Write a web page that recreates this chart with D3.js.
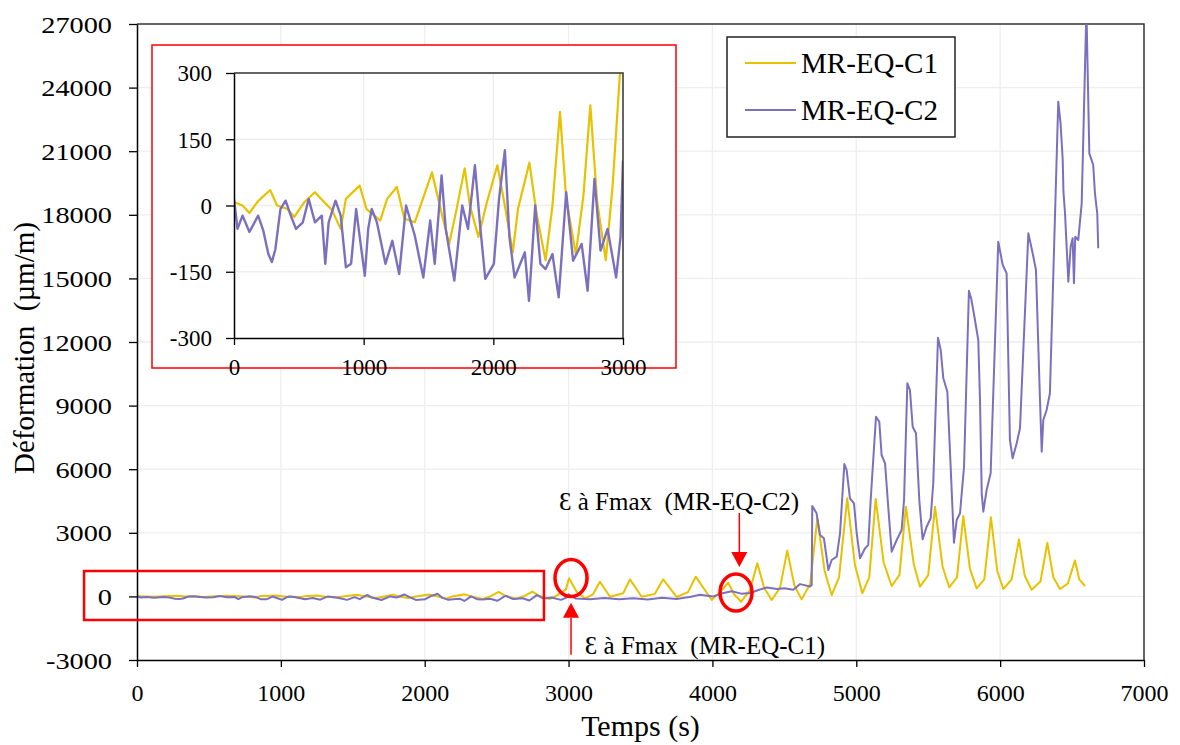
<!DOCTYPE html>
<html>
<head>
<meta charset="utf-8">
<script src="https://cdn.jsdelivr.net/npm/d3@7"></script>
<style>
  html, body { margin: 0; padding: 0; background: #fff; }
  svg { display: block; }
  text { font-family: "Liberation Serif", "Times New Roman", serif; fill: #000; }
</style>
</head>
<body>
<svg id="chart" width="1180" height="745"></svg>
<script>
// ---------------- DATA ----------------
const seriesNames = ["MR-EQ-C1", "MR-EQ-C2"];
const seriesColors = ["#E8C100", "#7B70BE"];

const timeC1 = [0,66,119,186,279,332,412,465,544,624,704,757,823,863,969,1022,1128,1181,1256,1314,1394,1527,1606,1659,1712,1779,1819,1885,1951,2031,2084,2150,2190,2278,2336,2403,2456,2514,2562,2636,2695,2748,2801,2867,2920,2981,
  3003,3056,3114,3170,3218,3288,3380,3427,3508,3600,3658,3752,3830,3884,3995,4060,4110,4150,4200,4261,4312,4360,4412,4470,4520,4570,4620,4680,4729,4780,4829,4880,4937,4990,5042,5090,5135,5190,5246,5300,5345,5400,5443,5500,5547,5600,5646,5700,5744,5790,5837,5890,5936,5980,6022,6080,6131,6170,6219,6280,6328,6370,6416,6470,6520,6550,6590];
const strainC1 = [8,0,-17,10,35,0,-8,-26,8,30,5,-11,-53,15,45,-8,-34,15,42,-30,-38,75,-23,-87,-15,84,0,-71,8,91,8,-106,-8,97,-23,-124,0,212,15,-110,23,227,8,-124,45,320,
  854,222,-90,100,694,-14,150,805,-14,120,805,-30,200,930,-170,250,650,100,-250,300,1560,400,-170,400,2160,500,-140,600,3680,1200,65,900,4630,1500,145,900,4600,1600,490,1000,4230,1500,460,1000,4230,1400,430,900,3790,1300,380,800,3730,1200,350,800,2690,1000,310,700,2530,900,350,600,1690,800,490];

const timeC2 = [0,27,66,119,186,226,265,292,319,358,398,438,478,531,576,624,677,704,730,783,823,863,903,942,982,1009,1035,1062,1102,1168,1221,1274,1327,1394,1460,1513,1548,1601,1633,1699,1760,1805,1858,1898,1938,2004,2044,2089,2124,2164,2217,2243,2275,2323,2363,2403,2456,2504,2562,2615,2681,2727,2780,2827,2881,2947,2981,3000,
  3050,3150,3250,3350,3450,3550,3650,3750,3850,3913,4006,4070,4134,4200,4261,4320,4377,4450,4500,4562,4609,4678,4690,4694,4724,4748,4775,4806,4829,4864,4887,4917,4933,4956,4984,5003,5026,5061,5083,5100,5137,5160,5176,5200,5222,5246,5281,5315,5332,5355,5373,5392,5415,5438,5461,5489,5517,5535,5568,5587,5605,5633,5656,5679,5698,5721,5749,5783,5800,5825,5848,5860,5872,5883,5906,5934,5987,6018,6045,6068,6087,6115,6138,6196,6226,6249,6277,6289,6300,6323,6346,6404,6420,6435,6440,6451,6474,6490,6504,6513,6522,6543,6567,6597,6602,6620,6647,6659,6675,6682];
const strainC2 = [15,-53,-23,-60,-23,-57,-110,-128,-99,-8,11,-23,-53,-38,15,-38,-23,-132,-38,11,-23,-140,-132,-8,-99,-159,-53,-8,-38,-132,-80,-155,0,-68,-163,-34,-132,68,-53,-170,0,-53,91,-45,-166,-132,15,125,-71,-163,-125,-106,-216,0,-132,-144,-110,-208,30,-125,-87,-193,60,-102,-53,-163,-71,102,
  -100,-130,-80,-140,-90,-150,-60,-120,-20,80,0,150,240,130,160,300,420,350,380,310,580,470,537,4264,3920,2900,2740,1245,1717,1873,2976,6245,5962,4627,4391,2976,1797,2268,2425,4547,8476,8240,6670,6278,4231,2110,2660,3132,4547,10052,9736,8005,7693,4547,2693,3288,3684,5335,12203,11623,10288,9656,6118,2533,3604,3920,6118,14420,14014,13038,12094,9264,4863,3995,5019,5806,16731,15632,15240,7377,6514,7222,7929,17127,16184,15400,9264,6825,8321,8792,9580,23335,22316,20585,19090,18071,14844,16495,16890,14768,16967,16811,18542,26953,26953,20900,20349,19014,18071,16420];

const xTicksMain = [0,1000,2000,3000,4000,5000,6000,7000];
const yTicksMain = [-3000,0,3000,6000,9000,12000,15000,18000,21000,24000,27000];
const xTicksInset = [0,1000,2000,3000];
const yTicksInset = [-300,-150,0,150,300];

const xTitle = "Temps (s)";
const yTitle = "Déformation  (µm/m)";
const noteC2 = "Ɛ à Fmax  (MR-EQ-C2)";
const noteC1 = "Ɛ à Fmax  (MR-EQ-C1)";

// annotation anchors (data units)
const zoomBox = {t0: -368, t1: 2829, v0: 1198, v1: -1113};
const circles = [{t: 3017, v: 868}, {t: 4164, v: 184}];
const arrowC1 = {t: 3017, vFrom: -2755, vTo: -300};
const arrowC2 = {t: 4187, vFrom: 3934, vTo: 1387};
const noteC2Pos = {t: 3768, v: 4085};
const noteC1Pos = {t: 3948, v: -2717};

// ---------------- CHART ----------------
const svg = d3.select("#chart");
const red = "#FF0000";
const gridColor = "#EEEEEE";
const fmt = d => String(d); // plain hyphen-minus as in the original

const x = d3.scaleLinear().domain([0, 7000]).range([137, 1144]);
const y = d3.scaleLinear().domain([-3000, 27000]).range([660, 24]);

const s1 = timeC1.map((t, i) => ({t, v: strainC1[i]}));
const s2 = timeC2.map((t, i) => ({t, v: strainC2[i]}));

// grid
const g = svg.append("g");
g.selectAll(".vg").data(xTicksMain.slice(1, -1)).join("line")
  .attr("x1", d => x(d)).attr("x2", d => x(d)).attr("y1", y(-3000)).attr("y2", y(27000))
  .attr("stroke", gridColor).attr("stroke-width", 1.3);
g.selectAll(".hg").data(yTicksMain.slice(1, -1)).join("line")
  .attr("x1", x(0)).attr("x2", x(7000)).attr("y1", d => y(d)).attr("y2", d => y(d))
  .attr("stroke", gridColor).attr("stroke-width", 1.3);

// frame top/right
svg.append("path")
  .attr("d", `M${x(0)},${y(27000)}H${x(7000)}V${y(-3000)}`)
  .attr("fill", "none").attr("stroke", "#333").attr("stroke-width", 1.5);

// lines
const line = d3.line().x(d => x(d.t)).y(d => y(d.v));
const defs = svg.append("defs");
defs.append("clipPath").attr("id", "mainClip")
  .append("rect").attr("x", x(0)).attr("y", y(27000) - 1).attr("width", x(7000) - x(0)).attr("height", y(-3000) - y(27000) + 1);
const lg = svg.append("g").attr("clip-path", "url(#mainClip)");
lg.append("path").datum(s1).attr("d", line).attr("fill", "none")
  .attr("stroke", seriesColors[0]).attr("stroke-width", 2).attr("stroke-linejoin", "round");
lg.append("path").datum(s2).attr("d", line).attr("fill", "none")
  .attr("stroke", seriesColors[1]).attr("stroke-width", 2).attr("stroke-linejoin", "round");

// axes
const xAxis = svg.append("g").attr("transform", `translate(0,${y(-3000)})`)
  .call(d3.axisBottom(x).tickValues(xTicksMain).tickFormat(fmt).tickSize(7).tickSizeOuter(0));
const yAxis = svg.append("g").attr("transform", `translate(${x(0)},0)`)
  .call(d3.axisLeft(y).tickValues(yTicksMain).tickFormat(fmt).tickSize(8).tickSizeOuter(0));
[xAxis, yAxis].forEach(a => {
  a.select(".domain").attr("stroke", "#000").attr("stroke-width", 1.5);
  a.selectAll(".tick line").attr("stroke", "#000").attr("stroke-width", 1.3);
  a.selectAll("text").attr("font-family", "Liberation Serif, Times New Roman, serif")
    .attr("font-size", 24).attr("fill", "#000");
});
xAxis.selectAll("text").attr("dy", null).attr("y", 41);
const yStretch = 1.18;
yAxis.selectAll("text").attr("x", -25 / yStretch).attr("dy", "0.34em")
  .attr("transform", `scale(${yStretch},1)`);

// axis titles
svg.append("text").attr("x", (x(0) + x(7000)) / 2).attr("y", 736)
  .attr("text-anchor", "middle").attr("font-size", 30).text(xTitle);
svg.append("text").attr("transform", `translate(34,${(y(-3000) + y(27000)) / 2 + 6}) rotate(-90)`)
  .attr("text-anchor", "middle").attr("font-size", 29).style("white-space", "pre").text(yTitle);

// legend
const leg = svg.append("g");
leg.append("rect").attr("x", 727).attr("y", 37).attr("width", 228).attr("height", 100)
  .attr("fill", "#fff").attr("stroke", "#222").attr("stroke-width", 1.5);
seriesNames.forEach((n, i) => {
  const yy = 63 + i * 47;
  leg.append("line").attr("x1", 745).attr("x2", 796).attr("y1", yy).attr("y2", yy)
    .attr("stroke", seriesColors[i]).attr("stroke-width", 2);
  leg.append("text").attr("x", 801).attr("y", yy + 10).attr("font-size", 29).text(n);
});

// annotations
svg.append("rect")
  .attr("x", x(zoomBox.t0)).attr("y", y(zoomBox.v0))
  .attr("width", x(zoomBox.t1) - x(zoomBox.t0)).attr("height", y(zoomBox.v1) - y(zoomBox.v0))
  .attr("fill", "none").attr("stroke", red).attr("stroke-width", 2.5);
svg.selectAll(".circ").data(circles).join("ellipse")
  .attr("cx", d => x(d.t)).attr("cy", d => y(d.v)).attr("rx", 16).attr("ry", 18.5)
  .attr("fill", "none").attr("stroke", red).attr("stroke-width", 3.5);

function arrow(a) {
  const xx = x(a.t), yf = y(a.vFrom), yt = y(a.vTo);
  const dir = yt > yf ? 1 : -1;
  const headLen = 15, headW = 8;
  svg.append("line").attr("x1", xx).attr("x2", xx).attr("y1", yf).attr("y2", yt - dir * headLen)
    .attr("stroke", red).attr("stroke-width", 1.5);
  svg.append("path")
    .attr("d", `M${xx},${yt}L${xx - headW},${yt - dir * headLen}L${xx + headW},${yt - dir * headLen}Z`)
    .attr("fill", red);
}
arrow(arrowC1);
arrow(arrowC2);

svg.append("text").attr("x", x(noteC2Pos.t)).attr("y", y(noteC2Pos.v)).attr("text-anchor", "middle")
  .attr("font-size", 25).style("white-space", "pre").text(noteC2);
svg.append("text").attr("x", x(noteC1Pos.t)).attr("y", y(noteC1Pos.v)).attr("text-anchor", "middle")
  .attr("font-size", 25).style("white-space", "pre").text(noteC1);

// ---------------- INSET ----------------
const ins = svg.append("g");
ins.append("rect").attr("x", 152).attr("y", 45).attr("width", 524).attr("height", 323)
  .attr("fill", "#fff").attr("stroke", red).attr("stroke-width", 1.5);

const xi = d3.scaleLinear().domain([0, 3000]).range([234, 623]);
const yi = d3.scaleLinear().domain([-300, 300]).range([338, 73]);

ins.selectAll(".ivg").data(xTicksInset.slice(1, -1)).join("line")
  .attr("x1", d => xi(d)).attr("x2", d => xi(d)).attr("y1", yi(-300)).attr("y2", yi(300))
  .attr("stroke", gridColor).attr("stroke-width", 1.3);
ins.selectAll(".ihg").data(yTicksInset.slice(1, -1)).join("line")
  .attr("x1", xi(0)).attr("x2", xi(3000)).attr("y1", d => yi(d)).attr("y2", d => yi(d))
  .attr("stroke", gridColor).attr("stroke-width", 1.3);

defs.append("clipPath").attr("id", "insClip")
  .append("rect").attr("x", xi(0)).attr("y", yi(300)).attr("width", xi(3000) - xi(0)).attr("height", yi(-300) - yi(300));
const iline = d3.line().x(d => xi(d.t)).y(d => yi(d.v));
const ilg = ins.append("g").attr("clip-path", "url(#insClip)");
ilg.append("path").datum(s1.filter(d => d.t <= 3003)).attr("d", iline).attr("fill", "none")
  .attr("stroke", seriesColors[0]).attr("stroke-width", 2.2).attr("stroke-linejoin", "round");
ilg.append("path").datum(s2.filter(d => d.t <= 3000)).attr("d", iline).attr("fill", "none")
  .attr("stroke", seriesColors[1]).attr("stroke-width", 2.4).attr("stroke-linejoin", "round");

ins.append("path")
  .attr("d", `M${xi(0)},${yi(300)}H${xi(3000)}V${yi(-300)}`)
  .attr("fill", "none").attr("stroke", "#333").attr("stroke-width", 1.5);

const ixAxis = ins.append("g").attr("transform", `translate(0,${yi(-300)})`)
  .call(d3.axisBottom(xi).tickValues(xTicksInset).tickFormat(fmt).tickSize(7).tickSizeOuter(0));
const iyAxis = ins.append("g").attr("transform", `translate(${xi(0)},0)`)
  .call(d3.axisLeft(yi).tickValues(yTicksInset).tickFormat(fmt).tickSize(8).tickSizeOuter(0));
[ixAxis, iyAxis].forEach(a => {
  a.select(".domain").attr("stroke", "#000").attr("stroke-width", 1.5);
  a.selectAll(".tick line").attr("stroke", "#000").attr("stroke-width", 1.3);
  a.selectAll("text").attr("font-family", "Liberation Serif, Times New Roman, serif")
    .attr("font-size", 23).attr("fill", "#000");
});
ixAxis.selectAll("text").attr("dy", null).attr("y", 37);
iyAxis.selectAll("text").attr("x", -22).attr("dy", "0.34em");
</script>
</body>
</html>
